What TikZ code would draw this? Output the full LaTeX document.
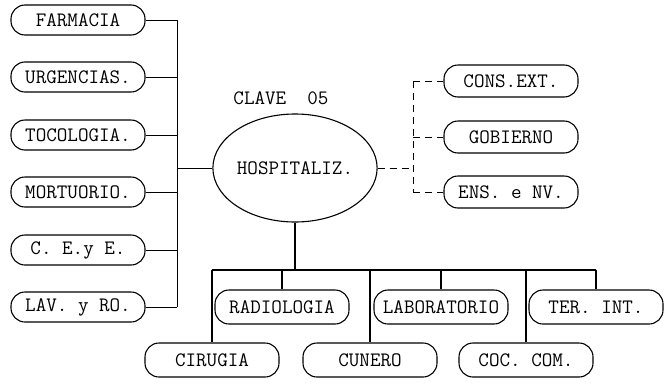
\documentclass[tikz,border=0pt]{standalone}
\usepackage{fontspec}
\usetikzlibrary{shapes.geometric}
\tikzset{
  tw/.style={font=\ttfamily\fontsize{20.5}{22}\selectfont},
  pill/.style={draw, line width=1.1pt, rounded corners=14pt, minimum width=134pt, minimum height=30pt, inner sep=0pt, tw},
  thin/.style={line width=1pt},
  thick2/.style={line width=2.2pt},
  dashline/.style={line width=1pt, dash pattern=on 7pt off 5pt},
  lbl/.style={tw, inner sep=0pt}
}
\begin{document}
\begin{tikzpicture}[x=1pt,y=-1pt]
\useasboundingbox (0,0) rectangle (666,383);
% left column
\node[pill] (farm) at (78,20) {FARMACIA};
\node[pill] (urg) at (78,77) {URGENCIAS.};
\node[pill] (toco) at (78,135) {TOCOLOGIA.};
\node[pill] (mort) at (78,192) {MORTUORIO.};
\node[pill] (cee) at (78,250) {C. E.y E.};
\node[pill] (lav) at (78,307) {LAV. y RO.};
% centre
\node[lbl] (clave) at (281,98) {CLAVE\ \ 05};
\node[draw, ellipse, line width=1.1pt, minimum width=134pt, minimum height=108pt, inner sep=0pt, tw] (hosp) at (295,168) {HOSPITALIZ.};
% right column
\node[pill, minimum height=32pt] (cons) at (511,81) {CONS.EXT.};
\node[pill, minimum height=32pt] (gob) at (511,137) {GOBIERNO};
\node[pill, minimum height=32pt] (ens) at (511,192) {ENS. e NV.};
% bottom rows
\node[pill, minimum height=34pt] (rad) at (282,307) {RADIOLOGIA};
\node[pill, minimum height=34pt] (lab) at (441,307) {LABORATORIO};
\node[pill, minimum height=34pt] (ter) at (596,307) {TER. INT.};
\node[pill, minimum height=34pt] (cir) at (212,360) {CIRUGIA};
\node[pill, minimum height=34pt] (cun) at (370,360) {CUNERO};
\node[pill, minimum height=34pt] (coc) at (526,360) {COC. COM.};
% left connectors
\coordinate (lt) at (177,20);
\coordinate (lb) at (177,307);
\draw[thin] (lt) -- (lb);
\foreach \n in {farm,urg,toco,mort,cee,lav}{
  \draw[thin] (\n.east) -- (\n.east -| lt);
}
\draw[thin] (hosp.west) -- (hosp.west -| lt);
% right dashed connectors
\coordinate (rt) at (413,81);
\coordinate (rb) at (413,192);
\draw[dashline] (hosp.east) -- (hosp.east -| rt);
\draw[dashline] (rt) -- (rb);
\foreach \n in {cons,gob,ens}{
  \draw[dashline] (\n.east -| rt) -- (\n.west);
}
% bottom tree
\coordinate (bl) at (212,270);
\coordinate (br) at (596,270);
\draw[thick2] (hosp.south) -- (hosp.south |- bl);
\draw[thick2] (bl) -- (br);
\foreach \n in {rad,lab,ter,cir,cun,coc}{
  \draw[thick2] (\n.north |- bl) -- (\n.north);
}
\end{tikzpicture}
\end{document}
